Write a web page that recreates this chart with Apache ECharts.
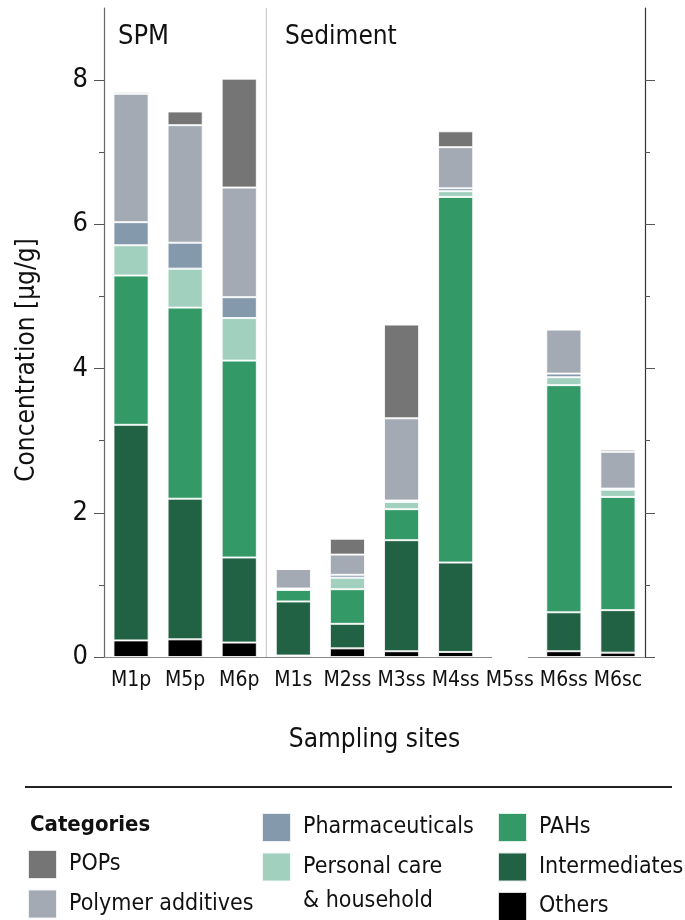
<!DOCTYPE html>
<html><head><meta charset="utf-8">
<script src="https://cdn.jsdelivr.net/npm/echarts@6/dist/echarts.min.js"></script>
<style>html,body{margin:0;padding:0;background:#fff}#c{width:685px;height:920px}</style>
</head><body><div id="c"></div>
<script>
// ---- data (µg/g) ----
const categories = ['M1p','M5p','M6p','M1s','M2ss','M3ss','M4ss','M5ss','M6ss','M6sc'];
const others          = [0.23, 0.245, 0.20, 0.02, 0.12, 0.08, 0.07, 0, 0.08, 0.06];
const intermediates   = [2.99, 1.95, 1.18, 0.75, 0.34, 1.54, 1.24, 0, 0.54, 0.59];
const pahs            = [2.07, 2.65, 2.73, 0.16, 0.48, 0.43, 5.07, 0, 3.15, 1.57];
const personalCare    = [0.42, 0.54, 0.59, 0.01, 0.16, 0.10, 0.08, 0, 0.11, 0.10];
const pharmaceuticals = [0.32, 0.36, 0.29, 0.01, 0.04, 0.02, 0.04, 0, 0.05, 0.015];
const polymer         = [1.78, 1.63, 1.52, 0.27, 0.28, 1.14, 0.57, 0, 0.61, 0.51];
const pops            = [0.02, 0.19, 1.51, 0, 0.22, 1.30, 0.22, 0, 0.01, 0.03];
const yMajorTicks = [0, 2, 4, 6, 8];
const yMinorTicks = [1, 3, 5, 7];
const groupLabels = ['SPM', 'Sediment'];
const legendCol1 = ['POPs', 'Polymer additives'];
const legendCol2 = ['Pharmaceuticals', 'Personal care'];
const legendCol3 = ['PAHs', 'Intermediates', 'Others'];

const FONT = "'Liberation Sans Narrow','DejaVu Sans Condensed','Roboto',sans-serif";
const TXT = '#111';

const seriesDefs = [
  ['Others', others, '#000000'],
  ['Intermediates', intermediates, '#226244'],
  ['PAHs', pahs, '#339966'],
  ['Personal care', personalCare, '#a2d0be'],
  ['Pharmaceuticals', pharmaceuticals, '#8599ad'],
  ['Polymer additives', polymer, '#a3aab3'],
  ['POPs', pops, '#757575']
];

const chart = echarts.init(document.getElementById('c'));

const legendBase = {
  orient: 'vertical', icon: 'rect', itemWidth: 29, itemHeight: 29, itemGap: 8.5,
  padding: 0, selectedMode: false, height: 140,
  textStyle: { fontSize: 23, fontFamily: FONT, color: TXT, padding: [0, 0, 0, 7] }
};

function yAx(position, major, opts) {
  return Object.assign({
    type: 'value', min: 0, max: 9, interval: 1, position,
    splitLine: { show: false },
    axisTick: { show: true, length: major ? 10 : 5, customValues: major ? yMajorTicks : yMinorTicks,
                lineStyle: { color: '#555' } },
    axisLabel: { show: false }
  }, opts);
}

chart.setOption({
  animation: false,
  backgroundColor: '#fff',
  textStyle: { fontFamily: FONT },
  grid: { left: 104, right: 40, top: 8, bottom: 263 },
  xAxis: [
    {
      type: 'category', data: categories, position: 'bottom',
      axisLine: { lineStyle: { color: '#888', width: 1.2 } },
      axisTick: { alignWithLabel: true, length: 8, lineStyle: { color: '#666' } },
      axisLabel: { fontSize: 21, color: TXT, margin: 13, fontFamily: FONT, interval: 0 },
      name: 'Sampling sites', nameLocation: 'middle', nameGap: 70,
      nameTextStyle: { fontSize: 26, color: TXT, fontFamily: FONT }
    },
    {
      type: 'category', data: categories, position: 'top',
      axisLine: { lineStyle: { color: '#888', width: 1.2 } },
      axisTick: { alignWithLabel: true, length: 8, lineStyle: { color: '#666' } },
      axisLabel: { show: false }
    }
  ],
  yAxis: [
    yAx('left', true, {
      axisLine: { show: true, lineStyle: { color: '#666', width: 1.2 } },
      axisLabel: { show: true, customValues: yMajorTicks, fontSize: 27, color: TXT, margin: 16, fontFamily: FONT }
    }),
    yAx('right', true, { axisLine: { show: true, lineStyle: { color: '#333', width: 1.2 } } }),
    yAx('left', false, { axisLine: { show: false } }),
    yAx('right', false, { axisLine: { show: false } })
  ],
  legend: [
    Object.assign({}, legendBase, { left: 27, top: 849, data: legendCol1 }),
    Object.assign({}, legendBase, { left: 261, top: 812, data: legendCol2 }),
    Object.assign({}, legendBase, { left: 497, top: 812, data: legendCol3 })
  ],
  series: seriesDefs.map(([name, vals, color]) => ({
    name, type: 'bar', stack: 'total', data: vals, barWidth: '65%',
    xAxisIndex: 0, yAxisIndex: 0,
    itemStyle: { color, borderColor: 'rgba(255,255,255,0.85)', borderWidth: 1 }
  }))
});

// positions derived from the chart's own scales
const xSep = (chart.convertToPixel({ xAxisIndex: 0 }, categories[2]) +
              chart.convertToPixel({ xAxisIndex: 0 }, categories[3])) / 2;
const yTop = chart.convertToPixel({ yAxisIndex: 0 }, 9);
const yBot = chart.convertToPixel({ yAxisIndex: 0 }, 0);

chart.setOption({
  graphic: [
    { type: 'line', shape: { x1: xSep, y1: yTop, x2: xSep, y2: yBot },
      style: { stroke: '#c4c4c4', lineWidth: 1 }, silent: true },
    { type: 'text', x: 118, y: 37, style: { text: groupLabels[0], font: '27px ' + FONT, fill: TXT, verticalAlign: 'middle', textVerticalAlign: 'middle' } },
    { type: 'text', x: 285, y: 37, style: { text: groupLabels[1], font: '26px ' + FONT, fill: TXT, verticalAlign: 'middle', textVerticalAlign: 'middle' } },
    { type: 'text', x: 27, y: 360, rotation: Math.PI / 2,
      style: { text: 'Concentration [µg/g]', font: '26px ' + FONT, fill: TXT, align: 'center', textAlign: 'center', verticalAlign: 'middle', textVerticalAlign: 'middle' } },
    { type: 'line', shape: { x1: 25, y1: 787, x2: 672, y2: 787 }, style: { stroke: '#222', lineWidth: 2 } },
    { type: 'text', x: 30, y: 825, style: { text: 'Categories', font: 'bold 22px ' + FONT, fill: TXT, verticalAlign: 'middle', textVerticalAlign: 'middle' } },
    { type: 'text', x: 303, y: 901, style: { text: '& household', font: '23px ' + FONT, fill: TXT, verticalAlign: 'middle', textVerticalAlign: 'middle' } }
  ]
});
</script>
</body></html>
